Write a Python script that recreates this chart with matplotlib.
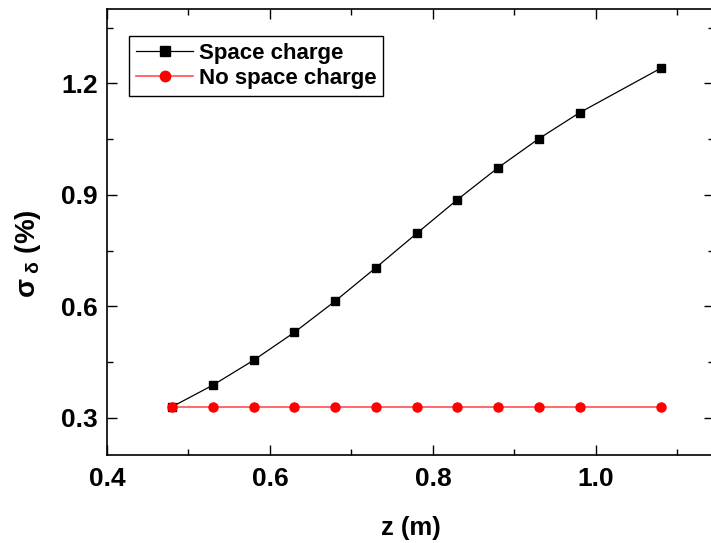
import matplotlib
matplotlib.use("Agg")
import matplotlib.pyplot as plt
from matplotlib.ticker import MultipleLocator

plt.rcParams['font.family'] = ['Liberation Sans', 'DejaVu Sans']
plt.rcParams['font.weight'] = 'bold'
plt.rcParams['mathtext.fontset'] = 'custom'
plt.rcParams['mathtext.rm'] = 'Liberation Sans:bold'
plt.rcParams['mathtext.it'] = 'Liberation Sans:bold'
plt.rcParams['mathtext.bf'] = 'Liberation Sans:bold'

z = [0.48, 0.53, 0.58, 0.63, 0.68, 0.73, 0.78, 0.83, 0.88, 0.93, 0.98, 1.08]
sc = [0.330, 0.388, 0.455, 0.530, 0.614, 0.704, 0.796, 0.887, 0.973, 1.051, 1.121, 1.241]
nosc = [0.330] * 12
labels = ["Space charge", "No space charge"]
xticks = [0.4, 0.6, 0.8, 1.0]
yticks = [0.3, 0.6, 0.9, 1.2]

fig = plt.figure(figsize=(7.11, 5.43), dpi=100)
W, H = 711, 543
L, R, T, B = 107, 714, 9, 455
ax = fig.add_axes([L / W, 1 - B / H, (R - L) / W, (B - T) / H])

ax.plot(z, sc, color='black', lw=0.9, marker='s', ms=6, mec='black', mfc='black', label=labels[0])
ax.plot(z, nosc, color='#ff5050', lw=1.2, marker='o', ms=6.5, mec='red', mfc='red', label=labels[1])

ax.set_xlim(0.4, 1.145)
ax.set_ylim(0.2, 1.4)
ax.xaxis.set_minor_locator(MultipleLocator(0.1))
ax.yaxis.set_minor_locator(MultipleLocator(0.15))
ax.set_xticks(xticks)
ax.set_xticklabels([f'{v:.1f}' for v in xticks])
ax.set_yticks(yticks)
ax.set_yticklabels([f'{v:.1f}' for v in yticks])

ax.tick_params(which='both', direction='in', top=True, right=True, width=1.0)
ax.tick_params(which='major', length=7, labelsize=19)
ax.tick_params(axis='x', which='major', pad=9)
ax.tick_params(axis='y', which='major', pad=6.5)
ax.tick_params(which='minor', length=4.5)
for s in ax.spines.values():
    s.set_linewidth(1.2)

ax.set_xlabel('z (m)', fontsize=18.5, fontweight='bold', labelpad=17.5)
ax.set_ylabel(r'$\sigma_{\ \delta}$ (%)', fontsize=20, fontweight='bold')
ax.yaxis.set_label_coords(-0.105, 0.452)

leg = ax.legend(loc='upper left', bbox_to_anchor=(0.0362, 0.9395), borderaxespad=0,
                fontsize=16, handlelength=2.6, handletextpad=0.25, numpoints=1,
                borderpad=0.3, labelspacing=0.2, fancybox=False, framealpha=1,
                edgecolor='black', markerscale=1.15)
leg.get_frame().set_linewidth(1.0)

fig.savefig('out.png', dpi=100)
